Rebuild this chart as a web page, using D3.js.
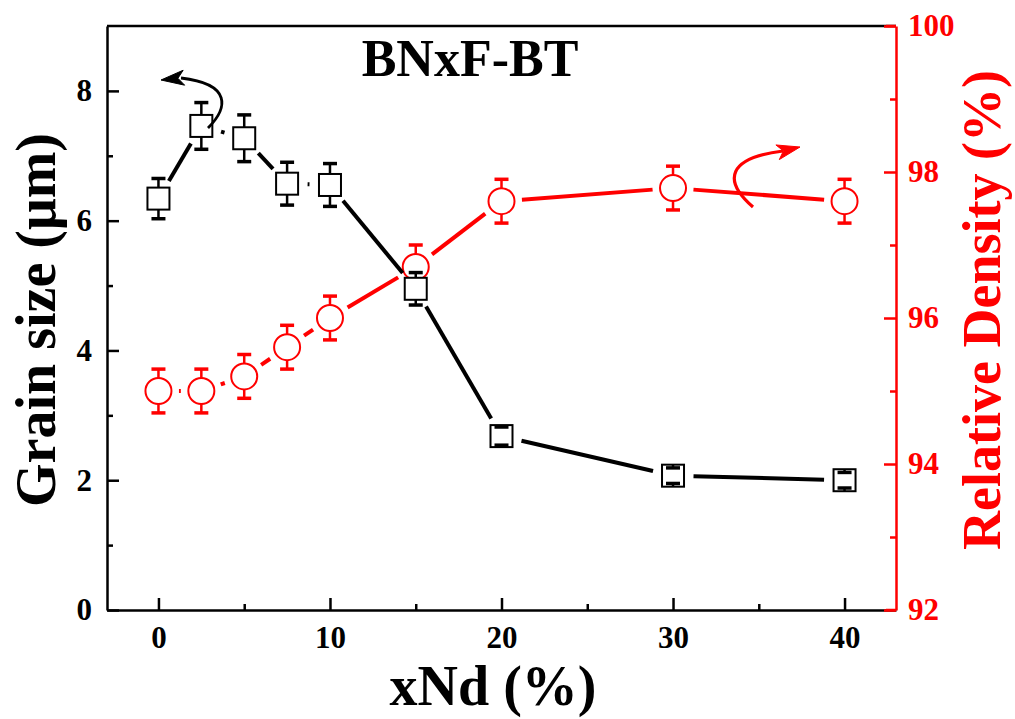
<!DOCTYPE html>
<html>
<head>
<meta charset="utf-8">
<script src="https://cdn.jsdelivr.net/npm/d3@7"></script>
<style>
  html, body { margin: 0; padding: 0; background: #fff; }
  svg { display: block; }
  text { font-family: "Liberation Serif", "Times New Roman", serif; font-weight: bold; }
</style>
</head>
<body>
<svg id="chart" width="1015" height="719"></svg>
<script>
// ---- data ----
const xNd = [0, 2.5, 5, 7.5, 10, 15, 20, 30, 40];
const grainSize = [6.34, 7.46, 7.27, 6.57, 6.55, 4.95, 2.68, 2.07, 2.00];
const grainErr = [0.31, 0.36, 0.36, 0.33, 0.33, 0.25, 0.14, 0.12, 0.12];
const density = [95.0, 95.0, 95.2, 95.6, 96.0, 96.7, 97.6, 97.78, 97.6];
const densityErr = [0.3, 0.3, 0.3, 0.3, 0.3, 0.3, 0.3, 0.3, 0.3];
const xTicks = [0, 10, 20, 30, 40];
const xMinor = [5, 15, 25, 35];
const leftTicks = [0, 2, 4, 6, 8];
const leftMinor = [1, 3, 5, 7];
const rightTicks = [92, 94, 96, 98, 100];
const rightMinor = [93, 95, 97, 99];
const titleText = "BNxF-BT";
const xLabel = "xNd (%)";
const yLabel = "Grain size (\u03bcm)";
const y2Label = "Relative Density (%)";

const RED = "#ff0000";
const svg = d3.select("#chart");
const L = 107, R = 896, T = 26, B = 610;

const x = d3.scaleLinear().domain([-3, 43]).range([L, R]);
const y = d3.scaleLinear().domain([0, 9]).range([B, T]);
const y2 = d3.scaleLinear().domain([92, 100]).range([B, T]);

// ---- axes ----
svg.append("line").attr("x1", L).attr("x2", R).attr("y1", T).attr("y2", T)
  .attr("stroke", "#000").attr("stroke-width", 2.5);

function styleAxis(g, color) {
  g.select(".domain").attr("stroke", color).attr("stroke-width", 2.5);
  g.selectAll(".tick line").attr("stroke", color).attr("stroke-width", 2.5);
  g.selectAll(".tick text").attr("fill", color).style("font-size", "31px");
}

// bottom axis
const gx = svg.append("g").attr("transform", `translate(0,${B})`)
  .call(d3.axisBottom(x).tickValues(xTicks).tickSize(-12).tickSizeOuter(0).tickPadding(16).tickFormat(d3.format("d")));
styleAxis(gx, "#000");
svg.append("g").attr("transform", `translate(0,${B})`)
  .call(d3.axisBottom(x).tickValues(xMinor).tickSize(-6).tickFormat(""))
  .call(g => { g.select(".domain").remove(); g.selectAll("line").attr("stroke", "#000").attr("stroke-width", 2.5); });

// left axis
const gy = svg.append("g").attr("transform", `translate(${L},0)`)
  .call(d3.axisLeft(y).tickValues(leftTicks).tickSize(-12).tickSizeOuter(0).tickPadding(15).tickFormat(d3.format("d")));
styleAxis(gy, "#000");
svg.append("g").attr("transform", `translate(${L},0)`)
  .call(d3.axisLeft(y).tickValues(leftMinor).tickSize(-6).tickFormat(""))
  .call(g => { g.select(".domain").remove(); g.selectAll("line").attr("stroke", "#000").attr("stroke-width", 2.5); });

// right axis
const gy2 = svg.append("g").attr("transform", `translate(${R},0)`)
  .call(d3.axisRight(y2).tickValues(rightTicks).tickSize(-12).tickSizeOuter(0).tickPadding(12).tickFormat(d3.format("d")));
styleAxis(gy2, RED);
svg.append("g").attr("transform", `translate(${R},0)`)
  .call(d3.axisRight(y2).tickValues(rightMinor).tickSize(-6).tickFormat(""))
  .call(g => { g.select(".domain").remove(); g.selectAll("line").attr("stroke", RED).attr("stroke-width", 2.5); });
[T, B].forEach(yy => svg.append("line").attr("x1", R - 10).attr("x2", R).attr("y1", yy).attr("y2", yy)
  .attr("stroke", RED).attr("stroke-width", 2.5));

// ---- series helpers ----
function gappedSegments(pts, gap) {
  const segs = [];
  for (let i = 0; i < pts.length - 1; i++) {
    const [x1, y1] = pts[i], [x2, y2_] = pts[i + 1];
    const dx = x2 - x1, dy = y2_ - y1, len = Math.hypot(dx, dy);
    if (len <= 2 * gap) continue;
    const ux = dx / len, uy = dy / len;
    segs.push([x1 + ux * gap, y1 + uy * gap, x2 - ux * gap, y2_ - uy * gap]);
  }
  return segs;
}

function drawSeries(xs, vals, errs, ys, color, shape) {
  const pts = xs.map((d, i) => [x(d), ys(vals[i])]);
  const g = svg.append("g");
  g.selectAll("line.seg").data(gappedSegments(pts, 20.5)).enter().append("line")
    .attr("x1", d => d[0]).attr("y1", d => d[1]).attr("x2", d => d[2]).attr("y2", d => d[3])
    .attr("stroke", color).attr("stroke-width", 4);
  const half = shape === "square" ? 11 : 13;
  if (shape === "square") {
    g.selectAll("rect").data(pts).enter().append("rect")
      .attr("x", d => d[0] - half).attr("y", d => d[1] - half)
      .attr("width", 2 * half).attr("height", 2 * half)
      .attr("fill", "#fff").attr("stroke", color).attr("stroke-width", 2);
  } else {
    g.selectAll("circle").data(pts).enter().append("circle")
      .attr("cx", d => d[0]).attr("cy", d => d[1]).attr("r", half)
      .attr("fill", "#fff").attr("stroke", color).attr("stroke-width", 2);
  }
  const capW = 7;
  xs.forEach((d, i) => {
    const cx = x(d), cy = ys(vals[i]);
    const yt = ys(vals[i] + errs[i]), yb = ys(vals[i] - errs[i]);
    [[yt, cy - half], [yb, cy + half]].forEach(([yc, ye]) => {
      g.append("line").attr("x1", cx).attr("x2", cx).attr("y1", yc).attr("y2", ye)
        .attr("stroke", color).attr("stroke-width", 2.5);
      g.append("line").attr("x1", cx - capW).attr("x2", cx + capW).attr("y1", yc).attr("y2", yc)
        .attr("stroke", color).attr("stroke-width", 3.5);
    });
  });
}

drawSeries(xNd, density, densityErr, y2, RED, "circle");
drawSeries(xNd, grainSize, grainErr, y, "#000", "square");

// ---- arrows ----
function arrow(pathD, tip, ctrl, color, w) {
  svg.append("path").attr("d", pathD).attr("fill", "none").attr("stroke", color).attr("stroke-width", w);
  const ang = Math.atan2(tip[1] - ctrl[1], tip[0] - ctrl[0]);
  const len = 23, hw = 7.5, notch = 17;
  const ux = Math.cos(ang), uy = Math.sin(ang), px = -uy, py = ux;
  const bx = tip[0] - ux * len, by = tip[1] - uy * len;
  const nx = tip[0] - ux * notch, ny = tip[1] - uy * notch;
  svg.append("path")
    .attr("d", `M${tip[0]},${tip[1]} L${bx + px * hw},${by + py * hw} L${nx},${ny} L${bx - px * hw},${by - py * hw} Z`)
    .attr("fill", color).attr("stroke", color).attr("stroke-width", 1);
}
arrow("M208,128 C228,108 232,84 181,78", [161, 80], [181, 78], "#000", 2.8);
arrow("M753,207 C722,180 728,158 783,151", [800, 147], [783, 151], RED, 3.2);

// ---- texts ----
svg.append("text").attr("x", 470).attr("y", 76).attr("text-anchor", "middle")
  .style("font-size", "52px").attr("fill", "#000").text(titleText);
svg.append("text").attr("x", 493).attr("y", 705).attr("text-anchor", "middle")
  .style("font-size", "56px").attr("fill", "#000").text(xLabel);
svg.append("text").attr("transform", "translate(55,320) rotate(-90)").attr("text-anchor", "middle")
  .style("font-size", "56px").attr("fill", "#000").text(yLabel);
svg.append("text").attr("transform", "translate(1000,310) rotate(-90)").attr("text-anchor", "middle")
  .style("font-size", "54px").attr("fill", RED).text(y2Label);
</script>
</body>
</html>
